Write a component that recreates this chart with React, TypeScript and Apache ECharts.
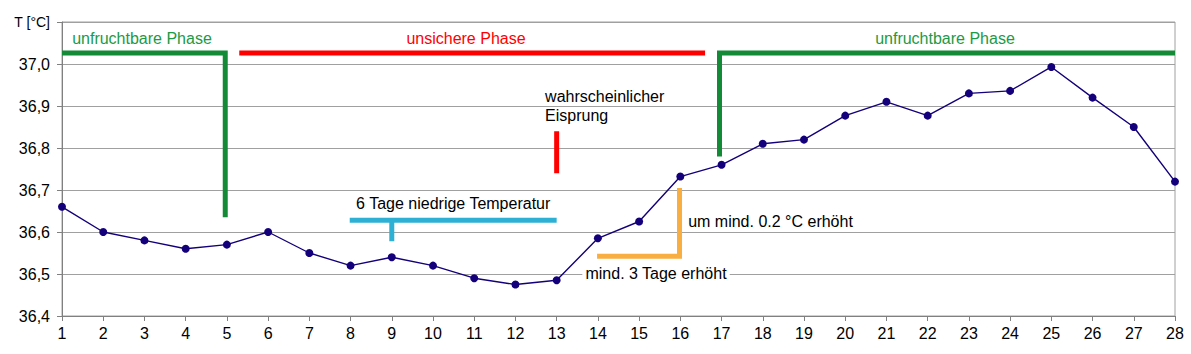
import React, { useEffect, useRef } from "react";
import * as echarts from "echarts";

const days = [1, 2, 3, 4, 5, 6, 7, 8, 9, 10, 11, 12, 13, 14, 15, 16, 17, 18, 19, 20, 21, 22, 23, 24, 25, 26, 27, 28];
const temps = [
  36.66, 36.6, 36.58, 36.56, 36.57, 36.6, 36.55, 36.52, 36.54, 36.52, 36.49, 36.475, 36.485, 36.585,
  36.625, 36.732, 36.76, 36.81, 36.82, 36.877, 36.91, 36.877, 36.93, 36.936, 36.993, 36.92, 36.85, 36.72,
];

// annotation polylines [day, °C]
const fertilePhase1 = [[1, 37.026], [4.96, 37.026], [4.96, 36.635]];
const unsafePhase = [[5.3, 37.026], [16.6, 37.026]];
const fertilePhase2 = [[16.95, 36.78], [16.95, 37.026], [28, 37.026]];
const ovulationMark = [[13, 36.84], [13, 36.74]];
const lowTempBar = [[7.98, 36.628], [13, 36.628]];
const lowTempTick = [[9, 36.628], [9, 36.578]];
const riseMark = [[13.98, 36.542], [15.98, 36.542], [15.98, 36.705]];

const GREEN = "#128a36";
const RED = "#ff0000";
const CYAN = "#2eb0d4";
const ORANGE = "#f9ae42";
const NAVY = "#14007a";
const FONT = "Liberation Sans, Arial, sans-serif";

function annot(data: number[][], color: string) {
  return {
    type: "line",
    data,
    symbol: "none",
    silent: true,
    z: 1,
    lineStyle: { color, width: 5, cap: "butt", join: "miter" },
  };
}

export default function App() {
  const ref = useRef<HTMLDivElement>(null);
  useEffect(() => {
    if (!ref.current) return;
    const chart = echarts.init(ref.current, null, { renderer: "svg" });
    chart.setOption({
      animation: false,
      grid: { left: 62, right: 16, top: 22, bottom: 38, show: true, borderColor: "#a0a0a0", borderWidth: 1 },
      xAxis: {
        type: "value",
        min: 1,
        max: 28,
        interval: 1,
        axisLine: { lineStyle: { color: "#808080", width: 1 } },
        axisTick: { show: true, length: 5, lineStyle: { color: "#808080" } },
        splitLine: { show: false },
        axisLabel: { color: "#000", fontSize: 16, fontFamily: FONT, margin: 9 },
      },
      yAxis: {
        type: "value",
        min: 36.4,
        max: 37.1,
        interval: 0.1,
        axisLine: { show: true, lineStyle: { color: "#808080", width: 1 } },
        axisTick: { show: true, length: 5, lineStyle: { color: "#808080" } },
        splitLine: { show: true, lineStyle: { color: "#a0a0a0", width: 1 } },
        axisLabel: {
          color: "#000",
          fontSize: 16,
          fontFamily: FONT,
          margin: 12,
          formatter: (v: number) => (Math.abs(v - 37.1) < 1e-6 ? "{u|T [°C]}" : v.toFixed(1).replace(".", ",")),
          rich: { u: { fontSize: 14, fontFamily: FONT, color: "#000" } },
        },
      },
      series: [
        annot(fertilePhase1, GREEN),
        annot(unsafePhase, RED),
        annot(fertilePhase2, GREEN),
        annot(ovulationMark, RED),
        annot(lowTempBar, CYAN),
        annot(lowTempTick, CYAN),
        annot(riseMark, ORANGE),
        {
          type: "line",
          data: days.map((d, i) => [d, temps[i]]),
          symbol: "circle",
          symbolSize: 8,
          z: 5,
          lineStyle: { color: NAVY, width: 1.4 },
          itemStyle: { color: NAVY },
        },
      ],
    });

    const texts: { t: string; at: number[]; align: string; color: string; bg?: boolean }[] = [
      { t: "unfruchtbare Phase", at: [2.94, 37.06], align: "center", color: "#1c9a45" },
      { t: "unsichere Phase", at: [10.8, 37.06], align: "center", color: RED },
      { t: "unfruchtbare Phase", at: [22.42, 37.06], align: "center", color: "#1c9a45" },
      { t: "wahrscheinlicher\nEisprung", at: [12.72, 36.9], align: "left", color: "#000" },
      { t: "6 Tage niedrige Temperatur", at: [10.49, 36.668], align: "center", color: "#000" },
      { t: "um mind. 0.2 °C erhöht", at: [16.19, 36.625], align: "left", color: "#000" },
      { t: "mind. 3 Tage erhöht", at: [15.41, 36.502], align: "center", color: "#000", bg: true },
    ];
    const graphic = texts.map((g) => {
      const p = chart.convertToPixel({ xAxisIndex: 0, yAxisIndex: 0 }, g.at) as number[];
      return {
        type: "text",
        x: p[0],
        y: p[1],
        z: 10,
        style: {
          text: g.t,
          fill: g.color,
          font: `16px ${FONT}`,
          align: g.align,
          verticalAlign: "middle",
          lineHeight: 19,
          backgroundColor: g.bg ? "#fff" : undefined,
          padding: g.bg ? [0, 3] : 0,
        },
      };
    });
    chart.setOption({ graphic });
    return () => chart.dispose();
  }, []);
  return <div ref={ref} style={{ position: "absolute", left: 0, top: 0, width: 1191, height: 354 }} />;
}
